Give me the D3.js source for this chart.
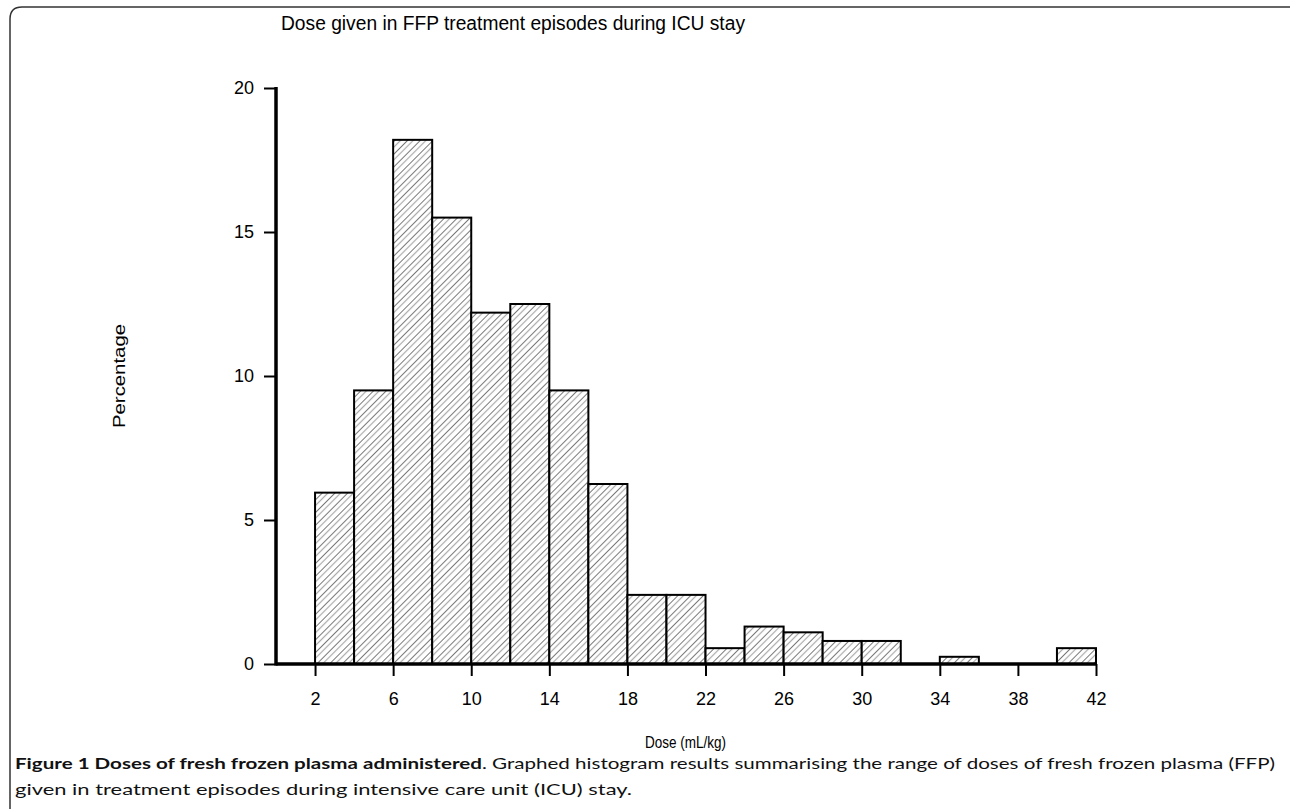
<!DOCTYPE html>
<html>
<head>
<meta charset="utf-8">
<script src="https://cdn.jsdelivr.net/npm/d3@7"></script>
<style>
  body { margin: 0; background: #fff; }
  svg { display: block; }
</style>
</head>
<body>
<div id="chart-container"></div>
<script>
// Data
const binStart = [2, 4, 6, 8, 10, 12, 14, 16, 18, 20, 22, 24, 26, 28, 30, 32, 34, 36, 38, 40];
const binEnd   = [4, 6, 8, 10, 12, 14, 16, 18, 20, 22, 24, 26, 28, 30, 32, 34, 36, 38, 40, 42];
const percent  = [5.95, 9.5, 18.2, 15.5, 12.2, 12.5, 9.5, 6.25, 2.4, 2.4, 0.55, 1.3, 1.1, 0.8, 0.8, 0, 0.25, 0, 0, 0.55];
const xTicks = [2, 6, 10, 14, 18, 22, 26, 30, 34, 38, 42];
const yTicks = [0, 5, 10, 15, 20];

const width = 1290, height = 809;
const font = "Liberation Sans, Arial, sans-serif";
const svg = d3.select("#chart-container").append("svg")
  .attr("width", width).attr("height", height);

// Hatch pattern
const defs = svg.append("defs");
const pat = defs.append("pattern")
  .attr("id", "hatch")
  .attr("patternUnits", "userSpaceOnUse")
  .attr("width", 9).attr("height", 9)
  .attr("patternTransform", "rotate(45)");
pat.append("rect").attr("width", 9).attr("height", 9).attr("fill", "#fff");
pat.append("line")
  .attr("x1", 0).attr("y1", 0).attr("x2", 0).attr("y2", 9)
  .attr("stroke", "#555").attr("stroke-width", 1.6);
pat.append("line")
  .attr("x1", 4.5).attr("y1", 0).attr("x2", 4.5).attr("y2", 9)
  .attr("stroke", "#aaa").attr("stroke-width", 1.2);

// Frame
svg.append("path")
  .attr("d", "M10,820 L10,19 Q10,7 22,7 L1300,7")
  .attr("fill", "none").attr("stroke", "#333").attr("stroke-width", 1.5);

// Scales
const x = d3.scaleLinear().domain([0, 42]).range([276, 1096]);
const y = d3.scaleLinear().domain([0, 20]).range([664, 88]);

const chart = svg.append("g");

// Bars
chart.append("g").selectAll("rect")
  .data(percent)
  .join("rect")
    .attr("x", (d, i) => x(binStart[i]))
    .attr("y", d => y(d))
    .attr("width", (d, i) => x(binEnd[i]) - x(binStart[i]))
    .attr("height", d => y(0) - y(d))
    .attr("fill", "url(#hatch)")
    .attr("stroke", "#000")
    .attr("stroke-width", 2)
    .style("display", d => d > 0 ? null : "none");

// Axis styling helper
function styleAxis(g) {
  g.select(".domain").remove();
  g.selectAll(".tick line").attr("stroke", "#000").attr("stroke-width", 2);
  g.selectAll(".tick text")
    .style("font-family", font)
    .style("font-size", "18px")
    .attr("fill", "#000");
}

// Y axis
chart.append("g")
  .attr("transform", `translate(${x(0)},0)`)
  .call(d3.axisLeft(y).tickValues(yTicks).tickSize(12).tickPadding(10))
  .call(styleAxis);
chart.append("line")
  .attr("x1", x(0)).attr("x2", x(0))
  .attr("y1", y(20) - 1).attr("y2", y(0) + 1.5)
  .attr("stroke", "#000").attr("stroke-width", 3.5);

// X axis
chart.append("g")
  .attr("transform", `translate(0,${y(0)})`)
  .call(d3.axisBottom(x).tickValues(xTicks).tickSize(12).tickPadding(16))
  .call(styleAxis);
chart.append("line")
  .attr("x1", x(0)).attr("x2", x(42) + 1)
  .attr("y1", y(0)).attr("y2", y(0))
  .attr("stroke", "#000").attr("stroke-width", 3.5);

// Titles
svg.append("text")
  .text("Dose given in FFP treatment episodes during ICU stay")
  .attr("x", 281).attr("y", 30)
  .attr("textLength", 464).attr("lengthAdjust", "spacingAndGlyphs")
  .style("font-family", font)
  .style("font-size", "20px");

svg.append("text")
  .text("Dose (mL/kg)")
  .attr("x", 645).attr("y", 748)
  .attr("textLength", 81).attr("lengthAdjust", "spacingAndGlyphs")
  .style("font-family", font)
  .style("font-size", "16px");

svg.append("text")
  .text("Percentage")
  .attr("transform", "translate(125,376) rotate(-90)")
  .attr("text-anchor", "middle")
  .attr("textLength", 104).attr("lengthAdjust", "spacingAndGlyphs")
  .style("font-family", font)
  .style("font-size", "16px");

// Caption
const cap = svg.append("text")
  .attr("x", 15).attr("y", 769)
  .attr("textLength", 1260).attr("lengthAdjust", "spacingAndGlyphs")
  .style("font-family", "Lato, Open Sans, sans-serif")
  .style("font-size", "16px")
  .style("fill", "#111");
cap.append("tspan").text("Figure 1 Doses of fresh frozen plasma administered").style("font-weight", "bold");
cap.append("tspan").text(". Graphed histogram results summarising the range of doses of fresh frozen plasma (FFP)");

svg.append("text")
  .text("given in treatment episodes during intensive care unit (ICU) stay.")
  .attr("x", 15).attr("y", 795)
  .attr("textLength", 617).attr("lengthAdjust", "spacingAndGlyphs")
  .style("font-family", "Lato, Open Sans, sans-serif")
  .style("font-size", "16px")
  .style("fill", "#111");
</script>
</body>
</html>
